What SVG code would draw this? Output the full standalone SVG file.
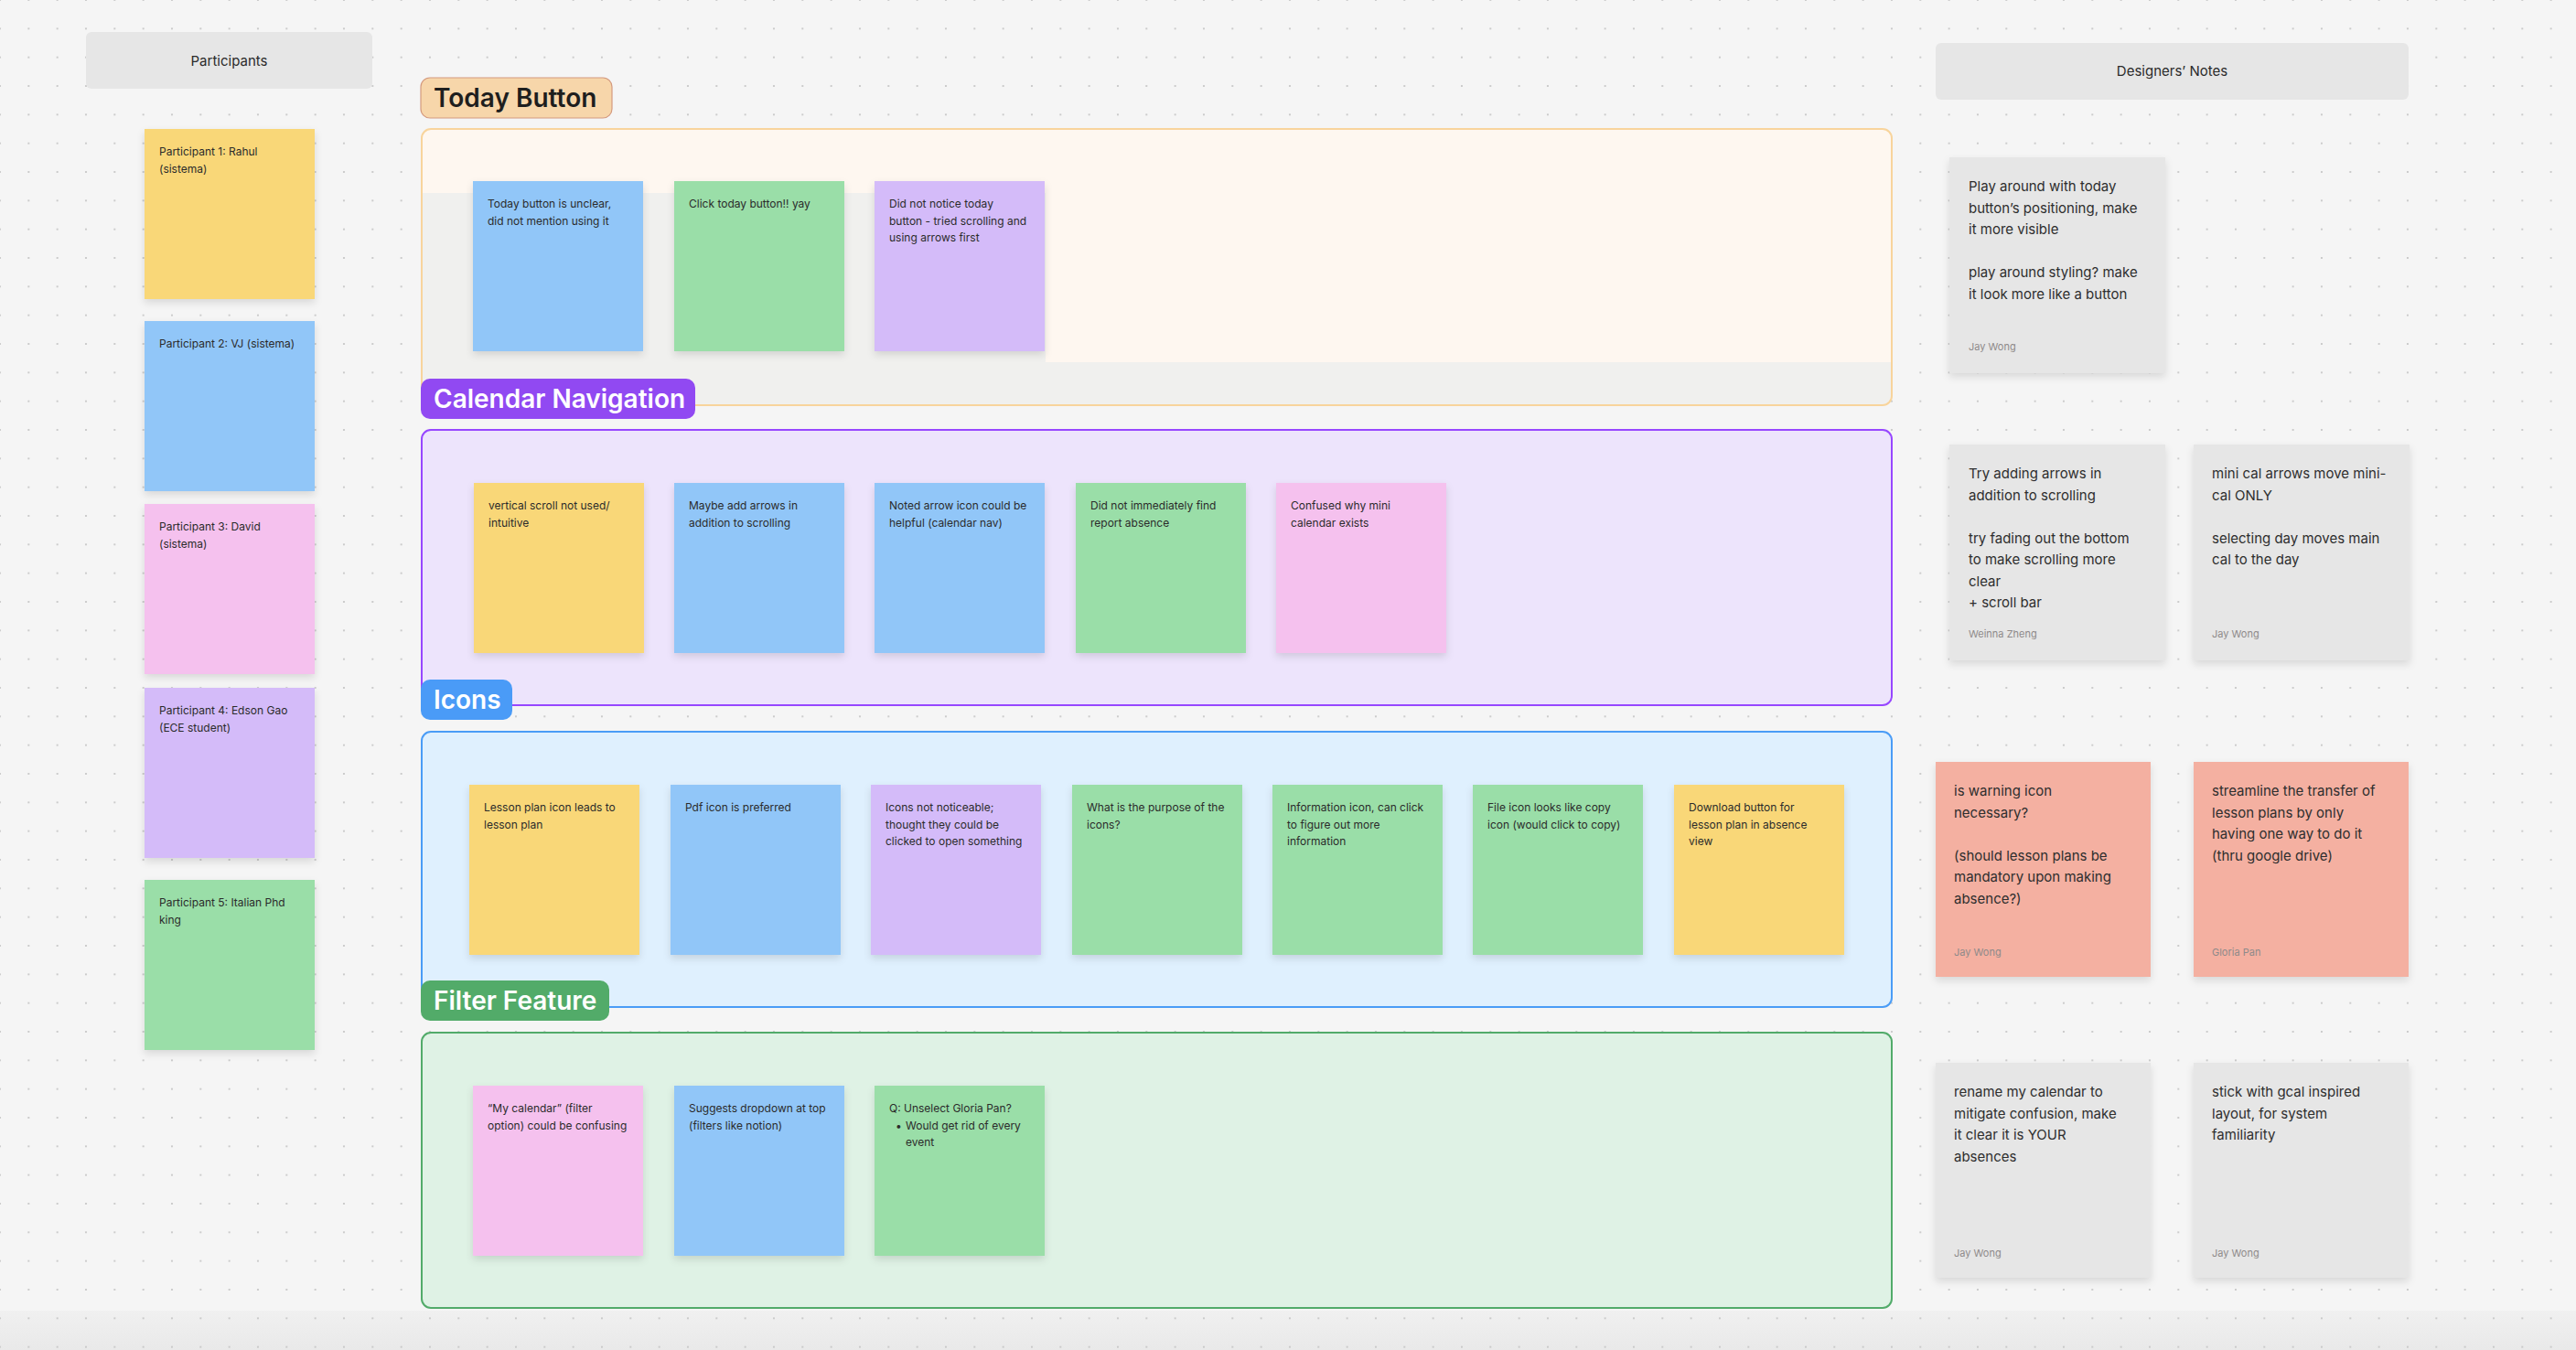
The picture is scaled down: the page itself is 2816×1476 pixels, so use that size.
<svg xmlns="http://www.w3.org/2000/svg" width="2816" height="1476" viewBox="0 0 2816 1476">
<style>
text { font-family: Inter, "Noto Sans", "Liberation Sans", sans-serif; }
.st { font-size: 12px; fill: #2b2b2b; }
.nt { font-size: 15px; fill: #2e2e2e; }
.au { font-size: 11px; fill: #8e8a8a; }
.lb { font-size: 28px; font-weight: 600; }
.hd { font-size: 15px; fill: #2b2b2b; text-anchor: middle; }
.yellow { fill: #f9d778; }
.blue { fill: #91c6f8; }
.green { fill: #9adea8; }
.purple { fill: #d4bbf9; }
.pink { fill: #f5c1ee; }
.gray { fill: #e6e6e6; }
.salmon { fill: #f4b0a1; }
.sticky { filter: url(#shadow); }
.header { fill: #e6e6e6; }
</style>
<defs>
<pattern id="dots" x="-15.667" y="-15.667" width="31.333" height="31.333" patternUnits="userSpaceOnUse">
<circle cx="15.667" cy="15.667" r="1.1" fill="#c2c2c2"/>
</pattern>
<linearGradient id="bottom" x1="0" y1="0" x2="0" y2="1">
<stop offset="0" stop-color="#f0f0f0"/>
<stop offset="1" stop-color="#e9e9e9"/>
</linearGradient>
<filter id="shadow" x="-10%" y="-10%" width="120%" height="130%">
<feDropShadow dx="0" dy="4" stdDeviation="4" flood-color="#000" flood-opacity="0.12"/>
</filter>
<clipPath id="todayClip"><rect x="462" y="142" width="1605" height="300" rx="9"/></clipPath>
</defs>

<rect x="0" y="0" width="2816" height="1476" fill="#f5f5f5"/>
<rect x="0" y="1433" width="2816" height="43" fill="url(#bottom)"/>
<rect x="0" y="0" width="2816" height="1476" fill="url(#dots)"/>

<!-- Participants column -->
<g id="participants-header">
<rect class="header" x="94" y="35" width="313" height="62" rx="6"/>
<text class="hd" x="250.5" y="71.5">Participants</text>
</g>
<g id="participant-1">
<rect class="sticky yellow" x="158" y="141" width="186" height="186"/>
<text class="st" x="174" y="170">Participant 1: Rahul<tspan x="174" dy="18.5">(sistema)</tspan></text>
</g>
<g id="participant-2">
<rect class="sticky blue" x="158" y="351" width="186" height="186"/>
<text class="st" x="174" y="380">Participant 2: VJ (sistema)</text>
</g>
<g id="participant-3">
<rect class="sticky pink" x="158" y="551" width="186" height="186"/>
<text class="st" x="174" y="580">Participant 3: David<tspan x="174" dy="18.5">(sistema)</tspan></text>
</g>
<g id="participant-4">
<rect class="sticky purple" x="158" y="752" width="186" height="186"/>
<text class="st" x="174" y="781">Participant 4: Edson Gao<tspan x="174" dy="18.5">(ECE student)</tspan></text>
</g>
<g id="participant-5">
<rect class="sticky green" x="158" y="962" width="186" height="186"/>
<text class="st" x="174" y="991">Participant 5: Italian Phd<tspan x="174" dy="18.5">king</tspan></text>
</g>

<!-- Section frames -->
<g id="frame-today">
<rect x="461" y="141" width="1607" height="302" rx="10" fill="#fef7f0"/>
<g clip-path="url(#todayClip)" fill="#f0f0ee">
<rect x="462" y="211" width="681" height="232"/>
<rect x="462" y="396" width="1606" height="47"/>
</g>
<rect x="461" y="141" width="1607" height="302" rx="10" fill="none" stroke="#f8d49c" stroke-width="2"/>
</g>
<g id="frame-calendar">
<rect x="461" y="470" width="1607" height="301" rx="10" fill="#ede4fc" stroke="#9747ff" stroke-width="2"/>
</g>
<g id="frame-icons">
<rect x="461" y="800" width="1607" height="301" rx="10" fill="#dff0fe" stroke="#4a9cf6" stroke-width="2"/>
</g>
<g id="frame-filter">
<rect x="461" y="1129" width="1607" height="301" rx="10" fill="#dff2e5" stroke="#52ab6a" stroke-width="2"/>
</g>

<!-- Today Button stickies -->
<g id="today-1">
<rect class="sticky blue" x="517" y="198" width="186" height="186"/>
<text class="st" x="533" y="227">Today button is unclear,<tspan x="533" dy="18.5">did not mention using it</tspan></text>
</g>
<g id="today-2">
<rect class="sticky green" x="737" y="198" width="186" height="186"/>
<text class="st" x="753" y="227">Click today button!! yay</text>
</g>
<g id="today-3">
<rect class="sticky purple" x="956" y="198" width="186" height="186"/>
<text class="st" x="972" y="227">Did not notice today<tspan x="972" dy="18.5">button - tried scrolling and</tspan><tspan x="972" dy="18.5">using arrows first</tspan></text>
</g>

<!-- Calendar Navigation stickies -->
<g id="cal-1">
<rect class="sticky yellow" x="518" y="528" width="186" height="186"/>
<text class="st" x="534" y="557">vertical scroll not used/<tspan x="534" dy="18.5">intuitive</tspan></text>
</g>
<g id="cal-2">
<rect class="sticky blue" x="737" y="528" width="186" height="186"/>
<text class="st" x="753" y="557">Maybe add arrows in<tspan x="753" dy="18.5">addition to scrolling</tspan></text>
</g>
<g id="cal-3">
<rect class="sticky blue" x="956" y="528" width="186" height="186"/>
<text class="st" x="972" y="557">Noted arrow icon could be<tspan x="972" dy="18.5">helpful (calendar nav)</tspan></text>
</g>
<g id="cal-4">
<rect class="sticky green" x="1176" y="528" width="186" height="186"/>
<text class="st" x="1192" y="557">Did not immediately find<tspan x="1192" dy="18.5">report absence</tspan></text>
</g>
<g id="cal-5">
<rect class="sticky pink" x="1395" y="528" width="186" height="186"/>
<text class="st" x="1411" y="557">Confused why mini<tspan x="1411" dy="18.5">calendar exists</tspan></text>
</g>

<!-- Icons stickies -->
<g id="icons-1">
<rect class="sticky yellow" x="513" y="858" width="186" height="186"/>
<text class="st" x="529" y="887">Lesson plan icon leads to<tspan x="529" dy="18.5">lesson plan</tspan></text>
</g>
<g id="icons-2">
<rect class="sticky blue" x="733" y="858" width="186" height="186"/>
<text class="st" x="749" y="887">Pdf icon is preferred</text>
</g>
<g id="icons-3">
<rect class="sticky purple" x="952" y="858" width="186" height="186"/>
<text class="st" x="968" y="887">Icons not noticeable;<tspan x="968" dy="18.5">thought they could be</tspan><tspan x="968" dy="18.5">clicked to open something</tspan></text>
</g>
<g id="icons-4">
<rect class="sticky green" x="1172" y="858" width="186" height="186"/>
<text class="st" x="1188" y="887">What is the purpose of the<tspan x="1188" dy="18.5">icons?</tspan></text>
</g>
<g id="icons-5">
<rect class="sticky green" x="1391" y="858" width="186" height="186"/>
<text class="st" x="1407" y="887">Information icon, can click<tspan x="1407" dy="18.5">to figure out more</tspan><tspan x="1407" dy="18.5">information</tspan></text>
</g>
<g id="icons-6">
<rect class="sticky green" x="1610" y="858" width="186" height="186"/>
<text class="st" x="1626" y="887">File icon looks like copy<tspan x="1626" dy="18.5">icon (would click to copy)</tspan></text>
</g>
<g id="icons-7">
<rect class="sticky yellow" x="1830" y="858" width="186" height="186"/>
<text class="st" x="1846" y="887">Download button for<tspan x="1846" dy="18.5">lesson plan in absence</tspan><tspan x="1846" dy="18.5">view</tspan></text>
</g>

<!-- Filter Feature stickies -->
<g id="filter-1">
<rect class="sticky pink" x="517" y="1187" width="186" height="186"/>
<text class="st" x="533" y="1216">“My calendar” (filter<tspan x="533" dy="18.5">option) could be confusing</tspan></text>
</g>
<g id="filter-2">
<rect class="sticky blue" x="737" y="1187" width="186" height="186"/>
<text class="st" x="753" y="1216">Suggests dropdown at top<tspan x="753" dy="18.5">(filters like notion)</tspan></text>
</g>
<g id="filter-3">
<rect class="sticky green" x="956" y="1187" width="186" height="186"/>
<text class="st" x="972" y="1216">Q: Unselect Gloria Pan?</text>
<text class="st" x="979" y="1234.5">•</text>
<text class="st" x="990" y="1234.5">Would get rid of every<tspan x="990" dy="18.5">event</tspan></text>
</g>

<!-- Section labels -->
<g id="label-today">
<rect x="460" y="85" width="209" height="44" rx="10" fill="#f7d6aa" stroke="#d49a7e" stroke-width="1.2"/>
<text class="lb" x="474" y="117" fill="#1e1e1e">Today Button</text>
</g>
<g id="label-calendar">
<rect x="460" y="414" width="300" height="44" rx="10" fill="#9149f2"/>
<text class="lb" x="474" y="446" fill="#ffffff">Calendar Navigation</text>
</g>
<g id="label-icons">
<rect x="460" y="743" width="100" height="44" rx="10" fill="#4a9bf7"/>
<text class="lb" x="474" y="775" fill="#ffffff">Icons</text>
</g>
<g id="label-filter">
<rect x="460" y="1072" width="206" height="44" rx="10" fill="#52ab69"/>
<text class="lb" x="474" y="1104" fill="#ffffff">Filter Feature</text>
</g>

<!-- Designers' notes column -->
<g id="designers-header">
<rect class="header" x="2116" y="47" width="517" height="62" rx="6"/>
<text class="hd" x="2374.5" y="83">Designers’ Notes</text>
</g>
<g id="note-1">
<rect class="sticky gray" x="2131" y="172" width="236" height="236"/>
<text class="nt" x="2152" y="209">Play around with today<tspan x="2152" dy="23.5">button’s positioning, make</tspan><tspan x="2152" dy="23.5">it more visible</tspan><tspan x="2152" dy="47">play around styling? make</tspan><tspan x="2152" dy="23.5">it look more like a button</tspan></text>
<text class="au" x="2152" y="383">Jay Wong</text>
</g>
<g id="note-2">
<rect class="sticky gray" x="2131" y="486" width="236" height="236"/>
<text class="nt" x="2152" y="523">Try adding arrows in<tspan x="2152" dy="23.5">addition to scrolling</tspan><tspan x="2152" dy="47">try fading out the bottom</tspan><tspan x="2152" dy="23.5">to make scrolling more</tspan><tspan x="2152" dy="23.5">clear</tspan><tspan x="2152" dy="23.5">+ scroll bar</tspan></text>
<text class="au" x="2152" y="697">Weinna Zheng</text>
</g>
<g id="note-3">
<rect class="sticky gray" x="2398" y="486" width="236" height="236"/>
<text class="nt" x="2418" y="523">mini cal arrows move mini-<tspan x="2418" dy="23.5">cal ONLY</tspan><tspan x="2418" dy="47">selecting day moves main</tspan><tspan x="2418" dy="23.5">cal to the day</tspan></text>
<text class="au" x="2418" y="697">Jay Wong</text>
</g>
<g id="note-4">
<rect class="sticky salmon" x="2116" y="833" width="235" height="235"/>
<text class="nt" x="2136" y="870">is warning icon<tspan x="2136" dy="23.5">necessary?</tspan><tspan x="2136" dy="47">(should lesson plans be</tspan><tspan x="2136" dy="23.5">mandatory upon making</tspan><tspan x="2136" dy="23.5">absence?)</tspan></text>
<text class="au" x="2136" y="1045">Jay Wong</text>
</g>
<g id="note-5">
<rect class="sticky salmon" x="2398" y="833" width="235" height="235"/>
<text class="nt" x="2418" y="870">streamline the transfer of<tspan x="2418" dy="23.5">lesson plans by only</tspan><tspan x="2418" dy="23.5">having one way to do it</tspan><tspan x="2418" dy="23.5">(thru google drive)</tspan></text>
<text class="au" x="2418" y="1045">Gloria Pan</text>
</g>
<g id="note-6">
<rect class="sticky gray" x="2116" y="1162" width="235" height="235"/>
<text class="nt" x="2136" y="1199">rename my calendar to<tspan x="2136" dy="23.5">mitigate confusion, make</tspan><tspan x="2136" dy="23.5">it clear it is YOUR</tspan><tspan x="2136" dy="23.5">absences</tspan></text>
<text class="au" x="2136" y="1374">Jay Wong</text>
</g>
<g id="note-7">
<rect class="sticky gray" x="2398" y="1162" width="235" height="235"/>
<text class="nt" x="2418" y="1199">stick with gcal inspired<tspan x="2418" dy="23.5">layout, for system</tspan><tspan x="2418" dy="23.5">familiarity</tspan></text>
<text class="au" x="2418" y="1374">Jay Wong</text>
</g>

<g id="connectors"/>
</svg>
